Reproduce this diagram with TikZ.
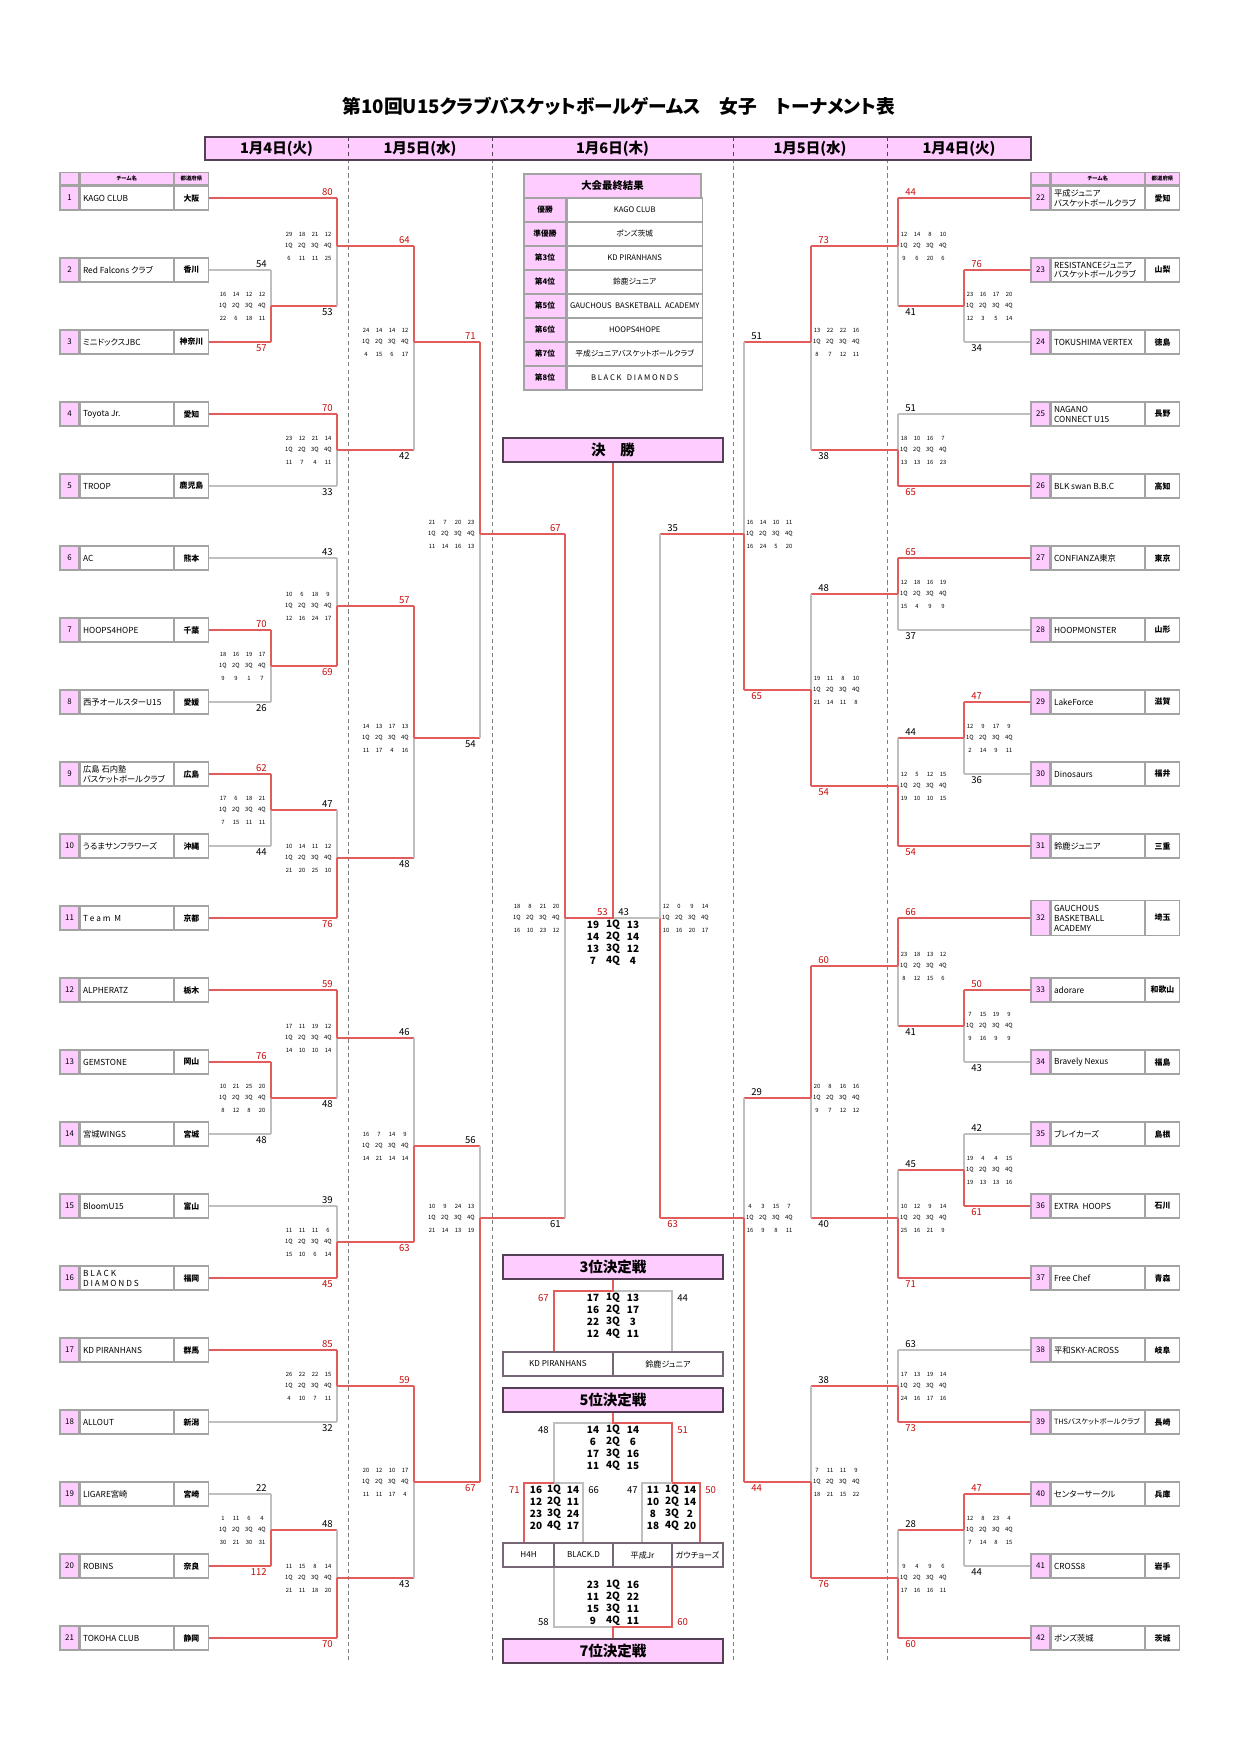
\documentclass[tikz,border=0pt]{standalone}
\usepackage{fontspec}
\setmainfont{Noto Sans CJK JP}[RawFeature=+palt]
\usetikzlibrary{positioning}
\definecolor{tpink}{rgb}{1.0,0.8,1.0}
\definecolor{bred}{rgb}{0.89,0.36,0.36}
\definecolor{sred}{rgb}{0.78,0.05,0.05}
\definecolor{lgray}{rgb}{0.75,0.75,0.75}
\definecolor{cgray}{rgb}{0.64,0.64,0.64}
\definecolor{hdark}{rgb}{0.33,0.25,0.33}
\newlength\pxl
\setlength\pxl{0.4815pt}
\newcommand{\narrow}[1]{{\fontsize{3.5}{4.2}\selectfont #1}}

% one match: lines of the bracket
\newcommand{\gameLines}[7]{%
  \coordinate (#1) at #4;
  \draw[#5] (#2) -- (#2 -| #1) coordinate (#1-a);
  \draw[#6] (#3) -- (#3 -| #1) coordinate (#1-b);
  \ifnum#7=1
    \tikzset{topsc/.style={scw},botsc/.style={scl}}%
    \draw[lost] (#1) -- (#1-b); \draw[won] (#1-a) -- (#1);
  \else
    \tikzset{topsc/.style={scl},botsc/.style={scw}}%
    \draw[lost] (#1-a) -- (#1); \draw[won] (#1) -- (#1-b);
  \fi}
\newcommand{\gameL}[9]{\gameLines{#1}{#2}{#3}{#4}{#5}{#6}{#7}%
  \node[topsc, anchor=south east] (#1-s1) at ([shift={(-3,-1)}]#1-a) {#8};
  \node[botsc, anchor=north east] (#1-s2) at ([shift={(-3,1)}]#1-b) {#9};}
\newcommand{\gameR}[9]{\gameLines{#1}{#2}{#3}{#4}{#5}{#6}{#7}%
  \node[topsc, anchor=south west] (#1-s1) at ([shift={(6,-1)}]#1-a) {#8};
  \node[botsc, anchor=north west] (#1-s2) at ([shift={(6,1)}]#1-b) {#9};}
% quarter scores
\newcommand{\qsL}[3]{%
  \foreach \v [count=\k] in {#2} \node[qs] (#1-u\k) at ([shift={({-61+13*\k},-12)}]#1) {\v};
  \foreach \k in {1,...,4} \node[qs] (#1-q\k) at ([shift={({-61+13*\k},0)}]#1) {\k Q};
  \foreach \v [count=\k] in {#3} \node[qs] (#1-d\k) at ([shift={({-61+13*\k},12)}]#1) {\v};}
\newcommand{\qsR}[3]{%
  \foreach \v [count=\k] in {#2} \node[qs] (#1-u\k) at ([shift={({-7+13*\k},-12)}]#1) {\v};
  \foreach \k in {1,...,4} \node[qs] (#1-q\k) at ([shift={({-7+13*\k},0)}]#1) {\k Q};
  \foreach \v [count=\k] in {#3} \node[qs] (#1-d\k) at ([shift={({-7+13*\k},12)}]#1) {\v};}

\begin{document}
\begin{tikzpicture}[x=0.4815pt, y=-0.4815pt,
  cell/.style={draw=cgray, line width=0.6pt, inner sep=0pt, minimum height=24*\pxl},
  numcell/.style={cell, fill=tpink, minimum width=19*\pxl, font=\fontsize{3.8}{4.4}\selectfont},
  namecell/.style={cell, fill=white, minimum width=93*\pxl},
  prefcell/.style={cell, fill=white, minimum width=34*\pxl, font=\bfseries\fontsize{3.8}{4.4}\selectfont},
  nametext/.style={anchor=west, inner sep=0pt, align=left, font=\fontsize{4.0}{4.8}\selectfont},
  hcell/.style={cell, fill=tpink, minimum height=12*\pxl, font=\bfseries\fontsize{2.6}{3}\selectfont},
  won/.style={draw=bred, line width=0.65pt},
  lost/.style={draw=lgray, line width=0.65pt},
  sc/.style={inner sep=0.4pt, font=\fontsize{4.6}{5}\selectfont},
  scw/.style={sc, text=sred},
  scl/.style={sc},
  qs/.style={inner sep=0pt, font=\fontsize{2.8}{3}\selectfont},
  big/.style={inner sep=0pt, font=\bfseries\fontsize{4.8}{5}\selectfont},
  day/.style={font=\bfseries\fontsize{7}{8}\selectfont},
  stage/.style={draw=hdark, line width=0.8pt, fill=tpink, inner sep=0pt, minimum width=220*\pxl, minimum height=24*\pxl, font=\bfseries\fontsize{7}{8}\selectfont},
  teamc/.style={draw=hdark!80, line width=0.6pt, fill=white, inner sep=0pt, minimum height=24*\pxl, font=\fontsize{3.9}{4.5}\selectfont},
  rcell/.style={draw=cgray, line width=0.6pt, inner sep=0pt, minimum height=24*\pxl, font=\fontsize{3.7}{4.4}\selectfont}]
\path[use as bounding box, fill=white] (0,0) rectangle (1241,1755);

\node[font=\bfseries\fontsize{9}{10}\selectfont] (title) at (619,106) {第10回U15クラブバスケットボールゲームス　女子　トーナメント表};

\foreach \x in {348,492,733,887}
\draw[draw=gray, line width=0.4pt, dash pattern=on 2pt off 1.5pt] (\x,137) -- (\x,1663);
\node[draw=hdark, line width=0.8pt, fill=tpink, inner sep=0pt, minimum width=826*\pxl, minimum height=23*\pxl] (band) at (618,148.5) {};
\foreach \x in {348,492,733,887}
\draw[draw=hdark, line width=0.4pt, dash pattern=on 2pt off 1.5pt] (\x,137) -- (\x,160);
\node[day] (d1) at (276.5,148.5) {1月4日(火)};
\node[day] (d2) at (420,148.5) {1月5日(水)};
\node[day] (d3) at (612.5,148.5) {1月6日(木)};
\node[day] (d4) at (810,148.5) {1月5日(水)};
\node[day] (d5) at (959,148.5) {1月4日(火)};

% teams, left side
\foreach \nm/\pf [count=\i] in {{KAGO CLUB}/大阪, {Red Falcons クラブ}/香川, ミニドックスJBC/神奈川, {Toyota Jr.}/愛知, TROOP/鹿児島,
  AC/熊本, HOOPS4HOPE/千葉, 西予オールスターU15/愛媛, {広島 石内塾\\バスケットボールクラブ}/広島, うるまサンフラワーズ/沖縄,
  {T e a m\ \ M}/京都, ALPHERATZ/栃木, GEMSTONE/岡山, 宮城WINGS/宮城, BloomU15/富山,
  {B L A C K\\D I A M O N D S}/福岡, {KD PIRANHANS}/群馬, ALLOUT/新潟, LIGARE宮崎/宮崎, ROBINS/奈良, {TOKOHA CLUB}/静岡}
{
  \pgfmathsetmacro\ty{198+72*(\i-1)}
  \node[numcell] (n\i) at (69.5,\ty) {\i};
  \node[namecell, right=0pt of n\i] (t\i) {};
  \node[prefcell, right=0pt of t\i] (p\i) {\pf};
  \node[nametext] (x\i) at ([shift={(3,0)}]t\i.west) {\nm};
}
% teams, right side
\foreach \nm/\pf [count=\j from 22] in {{平成ジュニア\\バスケットボールクラブ}/愛知, {RESISTANCEジュニア\\バスケットボールクラブ}/山梨,
  {TOKUSHIMA VERTEX}/徳島, {NAGANO\\CONNECT U15}/長野, {BLK swan B.B.C}/高知, CONFIANZA東京/東京, HOOPMONSTER/山形,
  LakeForce/滋賀, Dinosaurs/福井, 鈴鹿ジュニア/三重, {GAUCHOUS\\BASKETBALL\\ACADEMY}/埼玉, adorare/和歌山,
  {Bravely Nexus}/福島, ブレイカーズ/島根, {EXTRA\ \ HOOPS}/石川, {Free Chef}/青森, 平和SKY-ACROSS/岐阜,
  {\narrow{THSバスケットボールクラブ}}/長崎, センターサークル/兵庫, CROSS8/岩手, ポンズ茨城/茨城}
{
  \pgfmathsetmacro\ty{198+72*(\j-22)}
  \pgfmathsetmacro\h{\j==32 ? 35 : 24}
  \node[numcell, minimum height=\h*\pxl] (n\j) at (1040.5,\ty) {\j};
  \node[namecell, minimum height=\h*\pxl, right=0pt of n\j] (t\j) {};
  \node[prefcell, minimum height=\h*\pxl, right=0pt of t\j] (p\j) {\pf};
  \node[nametext] (x\j) at ([shift={(3,0)}]t\j.west) {\nm};
}
\foreach \i in {1,22}{
  \node[hcell, minimum width=19*\pxl, above=0pt of n\i] (hn\i) {};
  \node[hcell, minimum width=93*\pxl, above=0pt of t\i] (ht\i) {チーム名};
  \node[hcell, minimum width=34*\pxl, above=0pt of p\i] (hp\i) {都道府県};
}

% left bracket
\gameL{mA}{p2}{p3}{(271,306)}{lost}{won}{2}{54}{57}
\gameL{mB}{p1}{mA}{(337,246)}{won}{won}{1}{80}{53}
\gameL{mC}{p4}{p5}{(337,450)}{won}{lost}{1}{70}{33}
\gameL{mD}{mB}{mC}{(414,342)}{won}{won}{1}{64}{42}
\gameL{mE}{p7}{p8}{(271,666)}{won}{lost}{1}{70}{26}
\gameL{mF}{p6}{mE}{(337,606)}{lost}{won}{2}{43}{69}
\gameL{mG}{p9}{p10}{(271,810)}{won}{lost}{1}{62}{44}
\gameL{mH}{mG}{p11}{(337,858)}{won}{won}{2}{47}{76}
\gameL{mI}{mF}{mH}{(414,738)}{won}{won}{1}{57}{48}
\gameL{mJ}{mD}{mI}{(480,534)}{won}{won}{1}{71}{54}
\gameL{mL}{p13}{p14}{(271,1098)}{won}{lost}{1}{76}{48}
\gameL{mK}{p12}{mL}{(337,1038)}{won}{won}{1}{59}{48}
\gameL{mM}{p15}{p16}{(337,1242)}{lost}{won}{2}{39}{45}
\gameL{mN}{mK}{mM}{(414,1146)}{won}{won}{2}{46}{63}
\gameL{mQ}{p17}{p18}{(337,1386)}{won}{lost}{1}{85}{32}
\gameL{mR}{p19}{p20}{(271,1530)}{lost}{won}{2}{22}{112}
\gameL{mS}{mR}{p21}{(337,1578)}{won}{won}{2}{48}{70}
\gameL{mT}{mQ}{mS}{(414,1482)}{won}{won}{1}{59}{43}
\gameL{mP}{mN}{mT}{(480,1218)}{won}{won}{2}{56}{67}
\qsL{mA}{16,14,12,12}{22,6,18,11}
\qsL{mB}{29,18,21,12}{6,11,11,25}
\qsL{mC}{23,12,21,14}{11,7,4,11}
\qsL{mD}{24,14,14,12}{4,15,6,17}
\qsL{mE}{18,16,19,17}{9,9,1,7}
\qsL{mF}{10,6,18,9}{12,16,24,17}
\qsL{mG}{17,6,18,21}{7,15,11,11}
\qsL{mH}{10,14,11,12}{21,20,25,10}
\qsL{mI}{14,13,17,13}{11,17,4,16}
\qsL{mJ}{21,7,20,23}{11,14,16,13}
\qsL{mL}{10,21,25,20}{8,12,8,20}
\qsL{mK}{17,11,19,12}{14,10,10,14}
\qsL{mM}{11,11,11,6}{15,10,6,14}
\qsL{mN}{16,7,14,9}{14,21,14,14}
\qsL{mQ}{26,22,22,15}{4,10,7,11}
\qsL{mR}{1,11,6,4}{30,21,30,31}
\qsL{mS}{11,15,8,14}{21,11,18,20}
\qsL{mT}{20,12,10,17}{11,11,17,4}
\qsL{mP}{10,9,24,13}{21,14,13,19}

% right bracket
\gameR{rA}{n23}{n24}{(964,306)}{won}{lost}{1}{76}{34}
\gameR{rB}{n22}{rA}{(898,246)}{won}{won}{1}{44}{41}
\gameR{rC}{n25}{n26}{(898,450)}{lost}{won}{2}{51}{65}
\gameR{rD}{rB}{rC}{(811,342)}{won}{won}{1}{73}{38}
\gameR{rE}{n27}{n28}{(898,594)}{won}{lost}{1}{65}{37}
\gameR{rF}{n29}{n30}{(964,738)}{won}{lost}{1}{47}{36}
\gameR{rG}{rF}{n31}{(898,786)}{won}{won}{2}{44}{54}
\gameR{rH}{rE}{rG}{(811,690)}{won}{won}{2}{48}{54}
\gameR{rJ}{rD}{rH}{(744,534)}{won}{won}{2}{51}{65}
\gameR{rK}{n33}{n34}{(964,1026)}{won}{lost}{1}{50}{43}
\gameR{rL}{n32}{rK}{(898,966)}{won}{won}{1}{66}{41}
\gameR{rM}{n35}{n36}{(964,1170)}{lost}{won}{2}{42}{61}
\gameR{rN}{rM}{n37}{(898,1218)}{won}{won}{2}{45}{71}
\gameR{rO}{rL}{rN}{(811,1098)}{won}{won}{1}{60}{40}
\gameR{rQ}{n38}{n39}{(898,1386)}{lost}{won}{2}{63}{73}
\gameR{rR}{n40}{n41}{(964,1530)}{won}{lost}{1}{47}{44}
\gameR{rS}{rR}{n42}{(898,1578)}{won}{won}{2}{28}{60}
\gameR{rT}{rQ}{rS}{(811,1482)}{won}{won}{2}{38}{76}
\gameR{rP}{rO}{rT}{(744,1218)}{won}{won}{2}{29}{44}
\qsR{rA}{23,16,17,20}{12,3,5,14}
\qsR{rB}{12,14,8,10}{9,6,20,6}
\qsR{rC}{18,10,16,7}{13,13,16,23}
\qsR{rD}{13,22,22,16}{8,7,12,11}
\qsR{rE}{12,18,16,19}{15,4,9,9}
\qsR{rF}{12,9,17,9}{2,14,9,11}
\qsR{rG}{12,5,12,15}{19,10,10,15}
\qsR{rH}{19,11,8,10}{21,14,11,8}
\qsR{rJ}{16,14,10,11}{16,24,5,20}
\qsR{rK}{7,15,19,9}{9,16,9,9}
\qsR{rL}{23,18,13,12}{8,12,15,6}
\qsR{rM}{19,4,4,15}{19,13,13,16}
\qsR{rN}{10,12,9,14}{25,16,21,9}
\qsR{rO}{20,8,16,16}{9,7,12,12}
\qsR{rQ}{17,13,19,14}{24,16,17,16}
\qsR{rR}{12,8,23,4}{7,14,8,15}
\qsR{rS}{9,4,9,6}{17,16,16,11}
\qsR{rT}{7,11,11,9}{18,21,15,22}
\qsR{rP}{4,3,15,7}{16,9,8,11}

% semifinals and final
\gameL{sL}{mJ}{mP}{(565,918)}{won}{won}{1}{67}{61}
\gameR{sR}{rJ}{rP}{(660,918)}{won}{won}{2}{35}{63}
\qsL{sL}{18,8,21,20}{16,10,23,12}
\qsR{sR}{12,0,9,14}{10,16,20,17}

\node[rcell, fill=tpink, minimum width=177*\pxl, font=\bfseries\fontsize{5}{6}\selectfont] (res) at (612.5,186) {大会最終結果};
\foreach \lb/\nm [count=\k] in {優勝/{KAGO CLUB}, 準優勝/ポンズ茨城, 第3位/{KD PIRANHANS}, 第4位/鈴鹿ジュニア,
  第5位/{GAUCHOUS\ \ BASKETBALL\ \ ACADEMY}, 第6位/HOOPS4HOPE, 第7位/平成ジュニアバスケットボールクラブ, 第8位/{B L A C K\ \ \ D I A M O N D S}}
{
  \node[rcell, fill=tpink, minimum width=42*\pxl, font=\bfseries\fontsize{3.7}{4.4}\selectfont] (rl\k) at (545,{210+24*(\k-1)}) {\lb};
  \node[rcell, fill=white, minimum width=135*\pxl, right=0pt of rl\k] (rn\k) {\nm};
}

\node[stage] (final) at (613,450) {決　勝};
\coordinate (fin) at (613,918);
\draw[lost] (sR) -- (fin);
\draw[won] (sL) -- (fin) -- (final.south);
\node[scw, anchor=south east] (f1) at ([shift={(-4,-1)}]fin) {53};
\node[scl, anchor=south west] (f2) at ([shift={(4,-1)}]fin) {43};
\foreach \a/\b [count=\k] in {19/13,14/14,13/12,7/4}{
  \node[big] (fa\k) at ([shift={(-20,{-5+12*\k})}]fin) {\a};
  \node[big] (fq\k) at ([shift={(0,{-5+12*\k})}]fin) {\k Q};
  \node[big] (fb\k) at ([shift={(20,{-5+12*\k})}]fin) {\b};
}

% 3rd place
\node[stage] (third) at (613,1267) {3位決定戦};
\node[teamc, minimum width=110*\pxl] (k1) at (558,1364) {KD PIRANHANS};
\node[teamc, minimum width=110*\pxl] (k2) at (668,1364) {鈴鹿ジュニア};
\coordinate (th) at (613,1291);
\coordinate (thL) at (554,1291);
\coordinate (thR) at (672,1291);
\draw[lost] (th) -- (thR) -- (thR |- k2.north);
\draw[won] (third.south) -- (th) -- (thL) -- (thL |- k1.north);
\node[scw, anchor=east] (th1) at ([shift={(-4,7)}]thL) {67};
\node[scl, anchor=west] (th2) at ([shift={(4,7)}]thR) {44};
\foreach \a/\b [count=\k] in {17/13,16/17,22/3,12/11}{
  \node[big] (ta\k) at ([shift={(-20,{-5+12*\k})}]th) {\a};
  \node[big] (tq\k) at ([shift={(0,{-5+12*\k})}]th) {\k Q};
  \node[big] (tb\k) at ([shift={(20,{-5+12*\k})}]th) {\b};
}

% 5th to 8th place
\node[stage] (fifth) at (613,1400) {5位決定戦};
\node[teamc, minimum width=51*\pxl] (c1) at (528.5,1555) {H4H};
\node[teamc, minimum width=59*\pxl] (c2) at (583.5,1555) {BLACK.D};
\node[teamc, minimum width=59*\pxl] (c3) at (642.5,1555) {平成Jr};
\node[teamc, minimum width=51*\pxl] (c4) at (697.5,1555) {ガウチョーズ};
\node[stage] (seventh) at (613,1651) {7位決定戦};
\coordinate (fi) at (613,1423);
\coordinate (fiL) at (554,1423);
\coordinate (fiR) at (672,1423);
\coordinate (gL) at (554,1483);
\coordinate (gR) at (672,1483);
\coordinate (gLa) at (524,1483);
\coordinate (gLb) at (583,1483);
\coordinate (gRa) at (642,1483);
\coordinate (gRb) at (700,1483);
\draw[lost] (fi) -- (fiL) -- (gL);
\draw[won] (fifth.south) -- (fi) -- (fiR) -- (gR);
\draw[lost] (gL) -- (gLb) -- (gLb |- c2.north);
\draw[won] (gL) -- (gLa) -- (gLa |- c1.north);
\draw[lost] (gR) -- (gRa) -- (gRa |- c3.north);
\draw[won] (gR) -- (gRb) -- (gRb |- c4.north);
\node[scl, anchor=east] (fi1) at ([shift={(-4,7)}]fiL) {48};
\node[scw, anchor=west] (fi2) at ([shift={(4,7)}]fiR) {51};
\node[scw, anchor=east] (g1) at ([shift={(-3,7)}]gLa) {71};
\node[scl, anchor=west] (g2) at ([shift={(4,7)}]gLb) {66};
\node[scl, anchor=east] (g3) at ([shift={(-3,7)}]gRa) {47};
\node[scw, anchor=west] (g4) at ([shift={(4,7)}]gRb) {50};
\foreach \a/\b [count=\k] in {14/14,6/6,17/16,11/15}{
  \node[big] (ia\k) at ([shift={(-20,{-5+12*\k})}]fi) {\a};
  \node[big] (iq\k) at ([shift={(0,{-5+12*\k})}]fi) {\k Q};
  \node[big] (ib\k) at ([shift={(20,{-5+12*\k})}]fi) {\b};
}
\foreach \a/\b [count=\k] in {16/14,12/11,23/24,20/17}{
  \node[big] (la\k) at ([shift={(-18,{-5+12*\k})}]gL) {\a};
  \node[big] (lq\k) at ([shift={(0,{-5+12*\k})}]gL) {\k Q};
  \node[big] (lb\k) at ([shift={(19,{-5+12*\k})}]gL) {\b};
}
\foreach \a/\b [count=\k] in {11/14,10/14,8/2,18/20}{
  \node[big] (ra\k) at ([shift={(-19,{-5+12*\k})}]gR) {\a};
  \node[big] (rq\k) at ([shift={(0,{-5+12*\k})}]gR) {\k Q};
  \node[big] (rb\k) at ([shift={(18,{-5+12*\k})}]gR) {\b};
}
\coordinate (se) at (613,1627);
\coordinate (seL) at (554,1627);
\coordinate (seR) at (672,1627);
\draw[lost] (seL |- c2.south) -- (seL) -- (se);
\draw[won] (seR |- c3.south) -- (seR) -- (se) -- (seventh.north);
\node[scl, anchor=east] (se1) at ([shift={(-4,-5)}]seL) {58};
\node[scw, anchor=west] (se2) at ([shift={(4,-5)}]seR) {60};
\foreach \a/\b [count=\k] in {23/16,11/22,15/11,9/11}{
  \node[big] (sa\k) at ([shift={(-20,{-54+12*\k})}]se) {\a};
  \node[big] (sq\k) at ([shift={(0,{-54+12*\k})}]se) {\k Q};
  \node[big] (sb\k) at ([shift={(20,{-54+12*\k})}]se) {\b};
}
\end{tikzpicture}
\end{document}
